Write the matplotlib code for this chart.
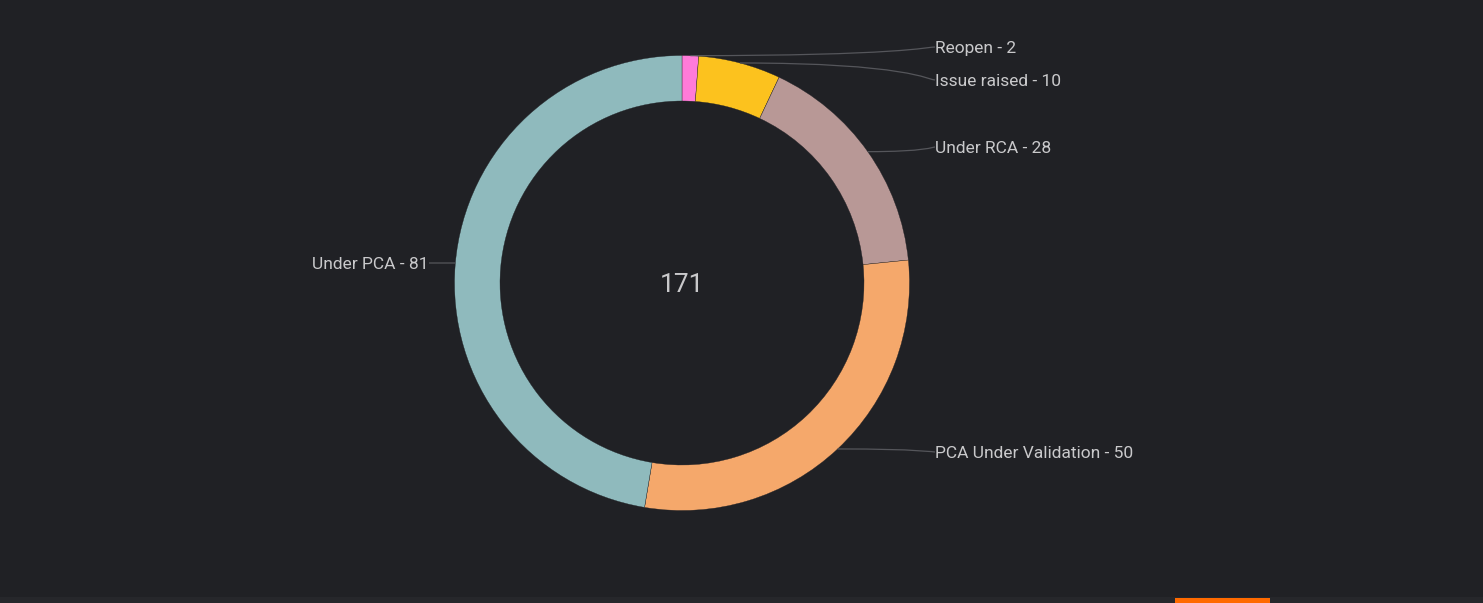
import matplotlib
matplotlib.use('Agg')
import matplotlib.pyplot as plt
from matplotlib.path import Path
from matplotlib.patches import PathPatch, Rectangle
import numpy as np

# data
labels = ['Reopen', 'Issue raised', 'Under RCA', 'PCA Under Validation', 'Under PCA']
values = [2, 10, 28, 50, 81]
colors = ['#FF7BD9', '#FCC21E', '#B89896', '#F5A86B', '#8FBABD']
# label text positions (pixels from top-left)
label_x = [935, 935, 935, 935, 429]
label_y = [47, 80, 147, 452, 263]

BG = '#202125'
TXT = '#C9C9CB'
LINE = '#55565B'

W, H = 1483, 603
fig = plt.figure(figsize=(W / 100, H / 100), dpi=100, facecolor=BG)
ax = fig.add_axes([0, 0, 1, 1])
ax.set_facecolor(BG)

cx, cy = 682, H - 283
r_out, r_in = 227.5, 182

wedges, _ = ax.pie(values, colors=colors, startangle=90, counterclock=False,
                   center=(cx, cy), radius=r_out, frame=True,
                   wedgeprops=dict(width=r_out - r_in, edgecolor=BG, linewidth=0.25))
ax.set_xlim(0, W)
ax.set_ylim(0, H)
ax.axis('off')

# total in the middle
total = sum(values)
ax.text(cx, cy - 2, str(total), ha='center', va='center', fontsize=19,
        color=TXT, family='Roboto')

# leader lines + labels
for w, lab, v, lx, ly in zip(wedges, labels, values, label_x, label_y):
    ly_d = H - ly
    right = lx > cx
    if right:
        mid = np.deg2rad((w.theta1 + w.theta2) / 2)
        ax0 = cx + r_out * np.cos(mid)
        ay0 = cy + r_out * np.sin(mid)
    else:
        ay0 = ly_d
        ax0 = cx - np.sqrt(r_out ** 2 - (ly_d - cy) ** 2)
    dx = lx - ax0
    verts = [(ax0, ay0), (ax0 + 0.85 * dx, ay0), (lx - 0.03 * dx, ly_d), (lx, ly_d)]
    codes = [Path.MOVETO, Path.CURVE4, Path.CURVE4, Path.CURVE4]
    ax.add_patch(PathPatch(Path(verts, codes), fill=False, edgecolor=LINE, linewidth=0.9))
    ax.text(lx + (0 if right else -1), ly_d - 1.5, f'{lab} - {v}',
            ha='left' if right else 'right', va='center',
            fontsize=12.5, color=TXT, family='Roboto')

# bottom toolbar strip of the page
ax.add_patch(Rectangle((0, 0), W, 6, facecolor='#26272B', edgecolor='none'))
ax.add_patch(Rectangle((1175, 0), 95, 5, facecolor='#FF6A00', edgecolor='none'))

fig.savefig('out.png', dpi=100, facecolor=BG)
